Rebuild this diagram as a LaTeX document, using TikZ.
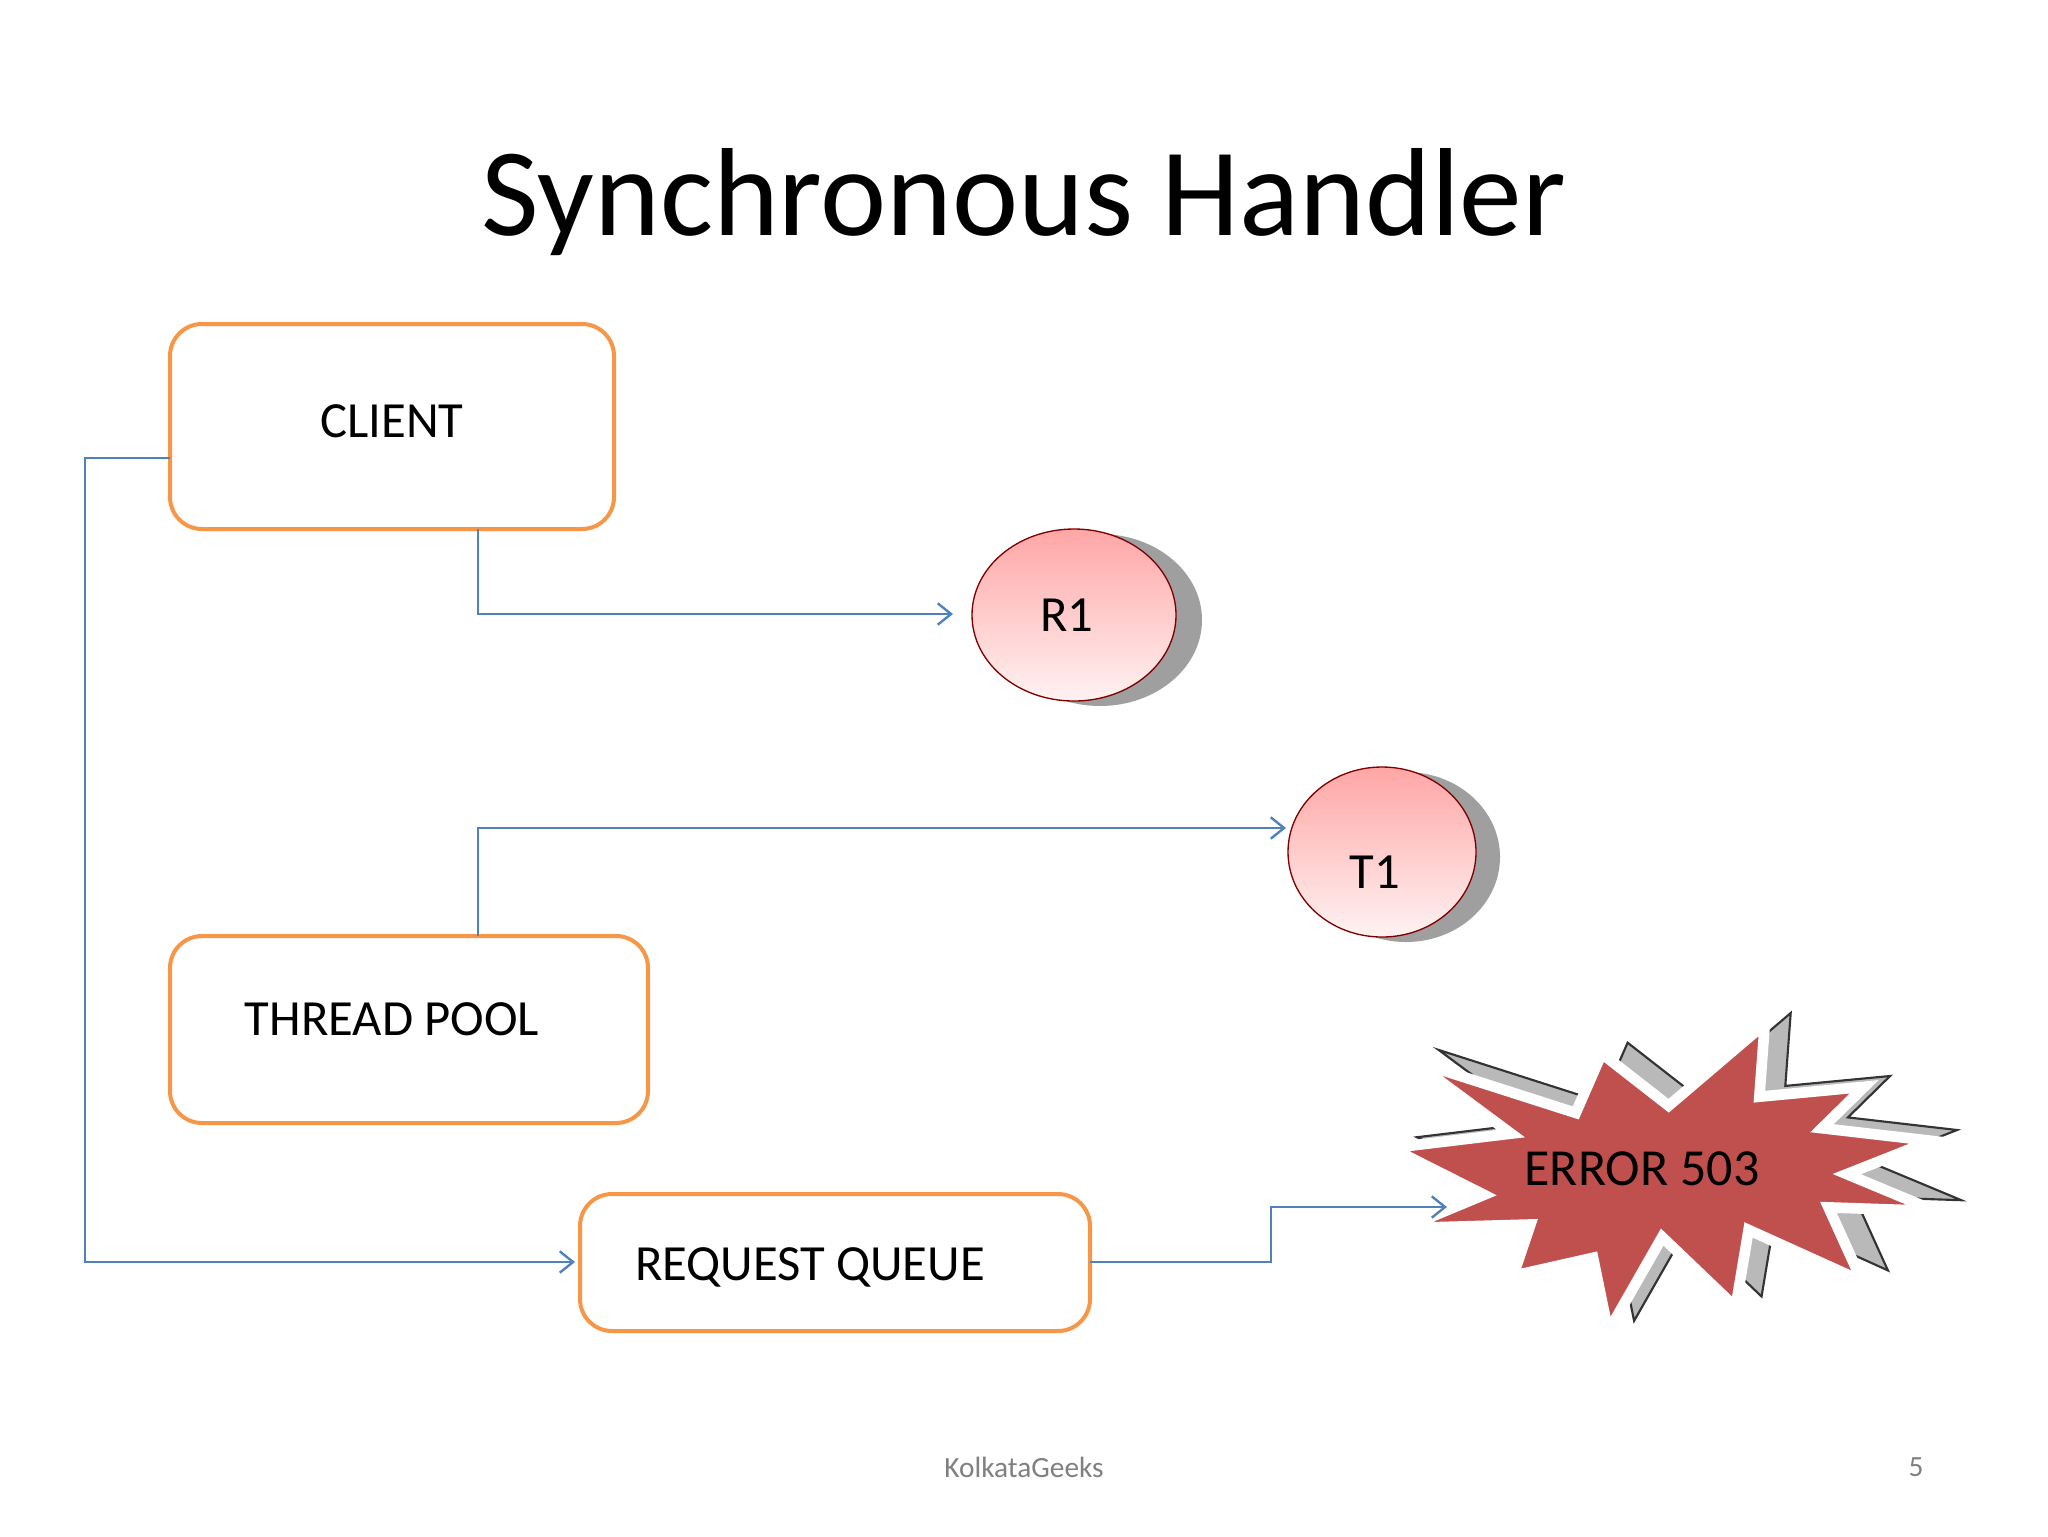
\documentclass[tikz,border=0pt]{standalone}
\usepackage{fontspec}
\setmainfont{Carlito}
\usetikzlibrary{arrows.meta}
\definecolor{org}{HTML}{F79646}
\definecolor{blu}{HTML}{4F81BD}
\definecolor{starred}{HTML}{C0504D}
\begin{document}
\begin{tikzpicture}[x=0.375pt,y=-0.375pt,
  box/.style={draw=org,line width=1.5pt,rounded corners=12pt,fill=white},
  lab/.style={font=\fontsize{19}{22}\selectfont},
  conn/.style={draw=blu,line width=0.7pt},
  arr/.style={conn,-{Straight Barb[length=5pt,width=8pt,line width=0.9pt]}},
  ball/.style={draw=red!50!black,line width=0.5pt,top color=red!35!white,bottom color=red!5!white}]
\useasboundingbox (0,0) rectangle (2048,1536);
\node[font=\fontsize{47}{55}\selectfont] (title) at (1024,202) {Synchronous Handler};
% boxes
\draw[box] (170,324) rectangle (614,529);
\node[lab] (client) at (392,421) {CLIENT};
\draw[box] (170,936) rectangle (648,1123);
\node[lab] (pool) at (392,1019) {THREAD POOL};
\draw[box] (580,1194) rectangle (1090,1331);
\node[lab] (queue) at (810,1267) {REQUEST QUEUE};
% balls
\fill[gray!75] (1100,620) ellipse (102 and 86);
\draw[ball] (1074,615) ellipse (102 and 86);
\node[lab] (r1) at (1067,615) {R1};
\fill[gray!75] (1406,857) ellipse (94 and 85);
\draw[ball] (1382,852) ellipse (94 and 85);
\node[lab] (t1) at (1375,872) {T1};
% star
\def\starpts{(1431,1088) -- (1582,1146) -- (1606,1080) -- (1668,1138) -- (1757,1047) -- (1752,1128) -- (1849,1117) -- (1810,1163) -- (1911,1177) -- (1833,1214) -- (1915,1255) -- (1816,1251) -- (1847,1333) -- (1742,1276) -- (1730,1362) -- (1662,1284) -- (1612,1389) -- (1598,1307) -- (1524,1327) -- (1540,1270) -- (1423,1274) -- (1497,1237) -- (1411,1185) -- (1522,1169) -- cycle}
\begin{scope}[shift={(-132.8,81.5)},xscale=1.08,yscale=0.9]
\begin{scope}[shift={(24,-12)}]
\filldraw[fill=gray!55,draw=gray!40!black,line width=0.8pt] \starpts;
\end{scope}
\filldraw[fill=starred,draw=white,line width=4pt] \starpts;
\end{scope}
\node[font=\fontsize{19.5}{23}\selectfont] (err) at (1642,1169) {ERROR 503};
% connectors
\coordinate (c1) at (170,458);
\draw[arr] (c1) -- (85,458) -- (85,1262) -- (575,1262);
\coordinate (c2) at (478,529);
\draw[arr] (c2) -- (478,614) -- (953,614);
\coordinate (c3) at (478,936);
\draw[arr] (c3) -- (478,828) -- (1286,828);
\coordinate (c4) at (1090,1262);
\draw[arr] (c4) -- (1271,1262) -- (1271,1207) -- (1447,1207);
% footer
\node[font=\fontsize{11}{13}\selectfont,text=gray] (foot) at (1024,1467) {KolkataGeeks};
\node[font=\fontsize{11}{13}\selectfont,text=gray] (page) at (1916,1467) {5};
\end{tikzpicture}
\end{document}
